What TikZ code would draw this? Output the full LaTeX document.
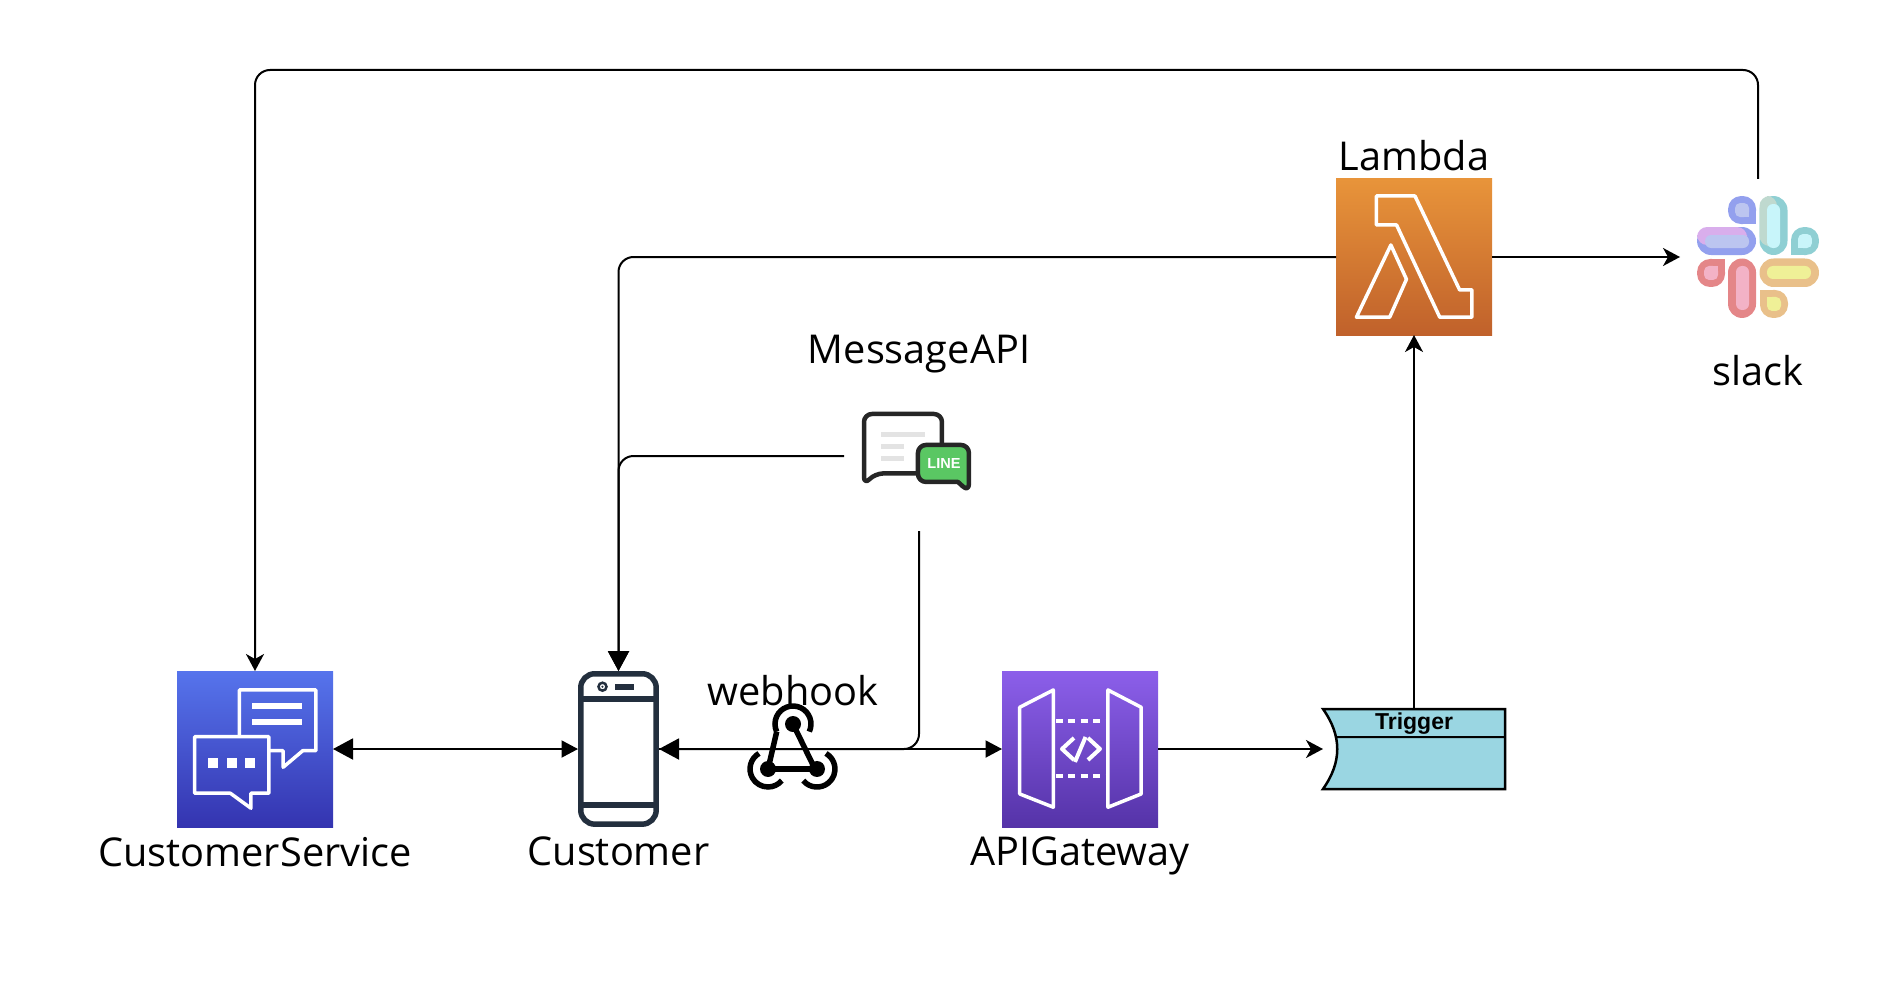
\documentclass[tikz,border=0pt]{standalone}
\usepackage{fontspec}
\setmainfont{Open Sans}
\newfontfamily\arialfont{Liberation Sans}
\usetikzlibrary{positioning}
\usetikzlibrary{arrows.meta}
\usetikzlibrary{calc}
\definecolor{servicetop}{HTML}{5674EC}
\definecolor{servicebottom}{HTML}{3434B0}
\definecolor{gatewaytop}{HTML}{8C5FEA}
\definecolor{gatewaybottom}{HTML}{5533A8}
\definecolor{lambdatop}{HTML}{E8943A}
\definecolor{lambdabottom}{HTML}{C0612B}
\definecolor{slackblue}{HTML}{93A0EE}
\definecolor{slacklav}{HTML}{BCC5F0}
\definecolor{slackpurple}{HTML}{D9AEEC}
\definecolor{slackteal}{HTML}{8FCFD3}
\definecolor{slackcyan}{HTML}{C8F5FA}
\definecolor{slacksage}{HTML}{BFD9CF}
\definecolor{slackred}{HTML}{E48688}
\definecolor{slackpink}{HTML}{F3B2C6}
\definecolor{slacksand}{HTML}{E9C08A}
\definecolor{slackyellow}{HTML}{EFF097}
\definecolor{phoneink}{HTML}{232F3E}
\definecolor{triggerblue}{HTML}{9AD6E2}
\definecolor{linegreen}{HTML}{5AC763}
\tikzset{
  bigblock/.tip={Triangle[length=.2cm,width=.21cm]},
  smallblock/.tip={Triangle[length=.165cm,width=.17cm]},
  thinhead/.tip={Stealth[length=.17cm,width=.18cm,inset=.05cm]},
  iconbox/.style 2 args={minimum size=1.56cm,inner sep=0pt,outer sep=0pt,top color=#1,bottom color=#2},
  plainbox/.style={inner sep=0pt,outer sep=0pt},
  iconlabel/.style={inner sep=0pt,outer sep=0pt,font=\fontsize{11.3}{13}\selectfont},
  link/.style={line width=.02cm,rounded corners=.15cm},
  iconline/.style={white,line width=.035cm,line join=round}
}
\begin{document}
\begin{tikzpicture}
\useasboundingbox (0,0) rectangle (19,-9.96);
\node[iconbox={servicetop}{servicebottom}] (service) at (2.55,-7.49) {};
\node[plainbox,minimum width=.81cm,minimum height=1.56cm,right=2.45cm of service] (customer) {};
\node[iconbox={gatewaytop}{gatewaybottom},right=3.43cm of customer] (gateway) {};
\node[plainbox,minimum width=1.82cm,minimum height=.8cm,right=1.65cm of gateway] (trigger) {};
\node[iconbox={lambdatop}{lambdabottom},above=3.74cm of trigger] (lambda) {};
\node[plainbox,minimum size=1.56cm,right=1.88cm of lambda] (slack) {};
\node[plainbox,minimum size=1.5cm,above=1.4cm of gateway,xshift=-1.61cm] (message) {};
\node[plainbox,minimum width=.92cm,minimum height=.82cm,right=.88cm of customer] (webhook) {};
\coordinate (toproute) at (10,-.7);
\node[iconlabel,below=.1cm of service] (servicelabel) {CustomerService};
\node[iconlabel,below=.1cm of customer] (customerlabel) {Customer};
\node[iconlabel,below=.1cm of gateway] (gatewaylabel) {APIGateway};
\node[iconlabel,above=.08cm of lambda] (lambdalabel) {Lambda};
\node[iconlabel,below=.2cm of slack] (slacklabel) {slack};
\node[iconlabel,above=.08cm of message] (messagelabel) {MessageAPI};
\node[iconlabel,above=.02cm of webhook] (webhooklabel) {webhook};
\draw[link,-{thinhead}] (slack.north) |- (toproute) -| (service.north);
\draw[link,{bigblock}-{smallblock}] (service.east) -- (customer.west);
\draw[link,-{bigblock}] (lambda.west) -| (customer.north);
\draw[link,-{bigblock}] (message.west) -| (customer.north);
\draw[link,-{bigblock}] (message.south) |- (customer.east);
\draw[link,-{smallblock}] (customer.east) -- (gateway.west);
\draw[link,-{thinhead}] (gateway.east) -- (trigger.west);
\draw[link,-{thinhead}] (trigger.north) -- (lambda.south);
\draw[link,-{thinhead}] (lambda.east) -- (slack.west);
% trigger
\draw[line width=.025cm,fill=triggerblue] (trigger.north west) -- (trigger.north east) -- (trigger.south east) -- (trigger.south west) .. controls +(.19,.27) and +(.19,-.27) .. (trigger.north west) -- cycle;
\draw[line width=.02cm] ([shift={(.13,-.28)}]trigger.north west) -- ([yshift=-.28cm]trigger.north east);
\node[plainbox,font=\arialfont\bfseries\fontsize{6.55}{7}\selectfont,below=.04cm of trigger.north] (triggerlabel) {Trigger};
% service icon
\begin{scope}[shift={(service.north west)},x=.01cm,y=-.01cm]
\draw[iconline] (62.3,64) -- (62.3,19) -- (139,19) -- (139,79.7) -- (125.9,79.7) -- (106.2,96.3) -- (106.2,79.7) -- (92.6,79.7);
\draw[iconline] (17.6,65.7) -- (91.9,65.7) -- (91.9,122.3) -- (74,122.3) -- (74,137.3) -- (53.4,122.3) -- (17.6,122.3) -- cycle;
\fill[white] (75.5,32.3) rectangle (124.8,38);
\fill[white] (75.5,48.3) rectangle (124.8,53.7);
\foreach \dotx in {31.2,49.8,67.6}
  \fill[white] (\dotx,87.3) rectangle (\dotx+10.3,97.3);
\end{scope}
% phone icon
\begin{scope}[shift={(customer.north west)},x=.01cm,y=-.01cm,phoneink]
\draw[line width=.055cm,rounded corners=.14cm] (2.75,2.75) rectangle (78.25,153.25);
\draw[line width=.055cm] (2.75,28) -- (78.25,28);
\draw[line width=.055cm] (2.75,134) -- (78.25,134);
\draw[line width=.025cm] (24.5,15.7) circle (.04cm);
\fill (24.5,15.7) circle (.012cm);
\fill (37,12.7) rectangle (56,18.7);
\end{scope}
% gateway icon
\begin{scope}[shift={(gateway.north west)},x=.01cm,y=-.01cm]
\draw[iconline] (51.4,19) -- (17.7,36.3) -- (17.7,123) -- (51.4,136.3) -- cycle;
\draw[iconline] (106,19) -- (139.3,36.3) -- (139.3,123) -- (106,136.3) -- cycle;
\draw[white,line width=.04cm,dash pattern=on .07cm off .055cm] (53.6,50) -- (104,50);
\draw[white,line width=.04cm,dash pattern=on .07cm off .055cm] (53.6,105) -- (104,105);
\draw[iconline,line width=.04cm] (72,67) -- (60,78) -- (72,89);
\draw[iconline,line width=.04cm] (86,67) -- (98,78) -- (86,89);
\draw[iconline,line width=.04cm] (83.6,66) -- (73,91);
\end{scope}
% lambda icon
\begin{scope}[shift={(lambda.north west)},x=.01cm,y=-.01cm]
\draw[iconline] (40.3,17) -- (79,17) -- (123.7,111) -- (136,111) -- (136,138.3) -- (103.8,138.3) -- (60.6,46) -- (40.3,46) -- cycle;
\draw[iconline] (54.9,66) -- (70.5,100.3) -- (53.7,138.3) -- (20.4,138.3) -- cycle;
\end{scope}
% slack icon
\begin{scope}[shift={(slack.center)},x=.01cm,y=-.01cm]
\foreach \xa/\ya/\xb/\yb/\outer in {-61/-30/-2/-2/slackblue,1.5/-61/29.5/-2/slackteal,1.5/1.5/61/30/slacksand,-30/1.5/-2/61/slackred}{
  \fill[\outer,rounded corners=.14cm] (\xa,\ya) rectangle (\xb,\yb);
}
\fill[slackpurple,rounded corners=.1cm] (-61,-30) rectangle (-11,-12);
\fill[slacksage,rounded corners=.1cm] (1.5,-61) rectangle (19,-11);
\foreach \xa/\ya/\xb/\yb/\inner in {-53/-22/-9/-9/slacklav,9/-53/22/-9/slackcyan,9/9/53/22/slackyellow,-22/9/-9/53/slackpink}{
  \fill[\inner,rounded corners=.06cm] (\xa,\ya) rectangle (\xb,\yb);
}
\foreach \cx/\cy/\dx/\dy/\outer/\inner in {-16/-47/1/1/slackblue/slacklav,47/-16/-1/1/slackteal/slackcyan,-47/16/1/-1/slackred/slackpink,16/47/-1/-1/slacksand/slackyellow}{
  \begin{scope}[shift={(\cx,\cy)}]
  \fill[\outer,rounded corners=.13cm] (-14,-14) rectangle (14,14);
  \fill[\outer] (0,0) rectangle (\dx*14,\dy*14);
  \fill[\inner,rounded corners=.05cm] (-7,-7) rectangle (7,7);
  \fill[\inner] (0,0) rectangle (\dx*7,\dy*7);
  \end{scope}
}
\end{scope}
% message icon
\begin{scope}[shift={(message.north west)},x=.01cm,y=-.01cm]
\draw[line width=.045cm,line join=round,draw=black!85,fill=white,rounded corners=.08cm] (20,104) -- (20,33) -- (98,33) -- (98,92.5) -- (31,92.5) -- cycle;
\fill[black!11] (37,51) rectangle (81,56);
\fill[black!11] (37,63) rectangle (60,68);
\fill[black!11] (37,75) rectangle (60,80);
\draw[line width=.045cm,line join=round,draw=black!85,fill=linegreen,rounded corners=.08cm] (74,64) -- (125,64) -- (125,111) [sharp corners] -- (114,101) [rounded corners=.08cm] -- (74,101) -- cycle;
\node[plainbox,white,font=\arialfont\bfseries\fontsize{4.14}{5}\selectfont] (linelabel) at (100,83) {LINE};
\end{scope}
% webhook icon
\begin{scope}[shift={(webhook.center)},x=.01cm,y=-.01cm,line width=.055cm]
\fill (0,-25) circle (.08cm);
\fill (-25,20) circle (.08cm);
\fill (24,20) circle (.08cm);
\draw (0,-25) -- (22,20);
\draw (-25,20) -- (24,20);
\draw (-16.3,-17.4) -- (-25,20);
\draw (16.3,-17.4) arc[start angle=-25,end angle=205,radius=.18cm];
\draw (-34,4.4) arc[start angle=120,end angle=320,radius=.18cm];
\draw (10.2,31.6) arc[start angle=-140,end angle=60,radius=.18cm];
\end{scope}
\end{tikzpicture}
\end{document}
